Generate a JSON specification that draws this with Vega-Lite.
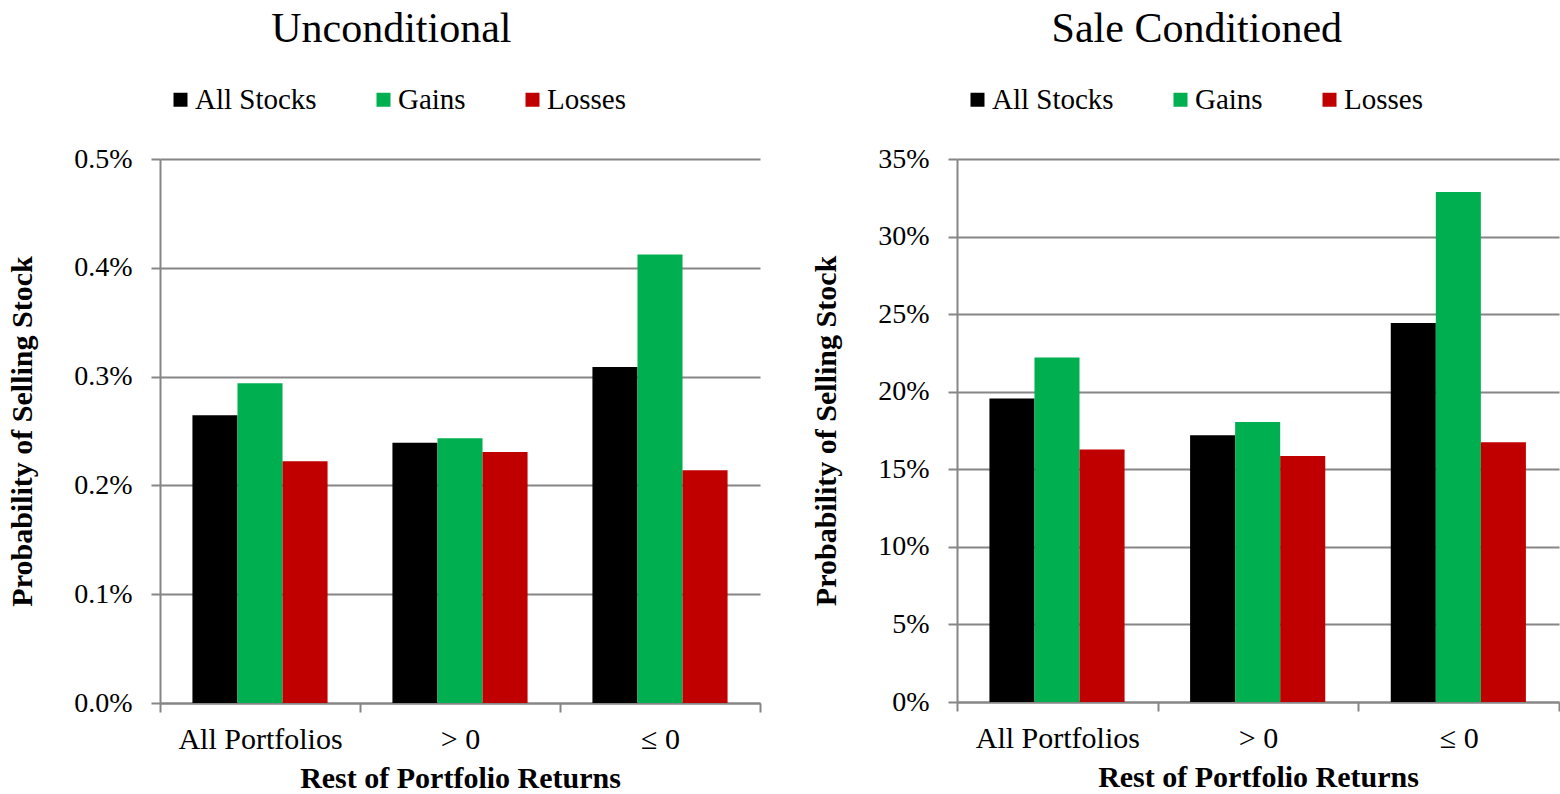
{
  "$schema": "https://vega.github.io/schema/vega-lite/v6.json",
  "padding": {"left": 7, "top": 8, "right": 0, "bottom": 0},
  "config": {
    "font": "Liberation Serif",
    "view": {"stroke": null},
    "axis": {
      "labelFont": "Liberation Serif", "titleFont": "Liberation Serif",
      "labelFontSize": 28, "titleFontSize": 30, "titleFontWeight": "bold",
      "labelColor": "#000000", "titleColor": "#000000",
      "domainColor": "#868686", "domainWidth": 2,
      "tickColor": "#868686", "tickWidth": 2, "tickSize": 9,
      "gridColor": "#868686", "gridWidth": 2
    },
    "legend": {
      "labelFont": "Liberation Serif", "labelFontSize": 29, "labelColor": "#000000",
      "symbolType": "square", "symbolSize": 196, "symbolStrokeWidth": 0,
      "labelOffset": 0, "columnPadding": 52, "padding": 0
    },
    "title": {"font": "Liberation Serif", "fontSize": 42, "fontWeight": "normal", "color": "#000000", "frame": "bounds", "anchor": "middle"}
  },
  "datasets": {
    "uncond": [
      {"group": "All Portfolios", "series": "All Stocks", "value": 0.002645},
      {"group": "All Portfolios", "series": "Gains", "value": 0.002939},
      {"group": "All Portfolios", "series": "Losses", "value": 0.002222},
      {"group": "> 0", "series": "All Stocks", "value": 0.002392},
      {"group": "> 0", "series": "Gains", "value": 0.002433},
      {"group": "> 0", "series": "Losses", "value": 0.002307},
      {"group": "≤ 0", "series": "All Stocks", "value": 0.003089},
      {"group": "≤ 0", "series": "Gains", "value": 0.004123},
      {"group": "≤ 0", "series": "Losses", "value": 0.00214}
    ],
    "sale": [
      {"group": "All Portfolios", "series": "All Stocks", "value": 0.1956},
      {"group": "All Portfolios", "series": "Gains", "value": 0.222},
      {"group": "All Portfolios", "series": "Losses", "value": 0.1628},
      {"group": "> 0", "series": "All Stocks", "value": 0.1719},
      {"group": "> 0", "series": "Gains", "value": 0.1805},
      {"group": "> 0", "series": "Losses", "value": 0.1585},
      {"group": "≤ 0", "series": "All Stocks", "value": 0.2443},
      {"group": "≤ 0", "series": "Gains", "value": 0.3288},
      {"group": "≤ 0", "series": "Losses", "value": 0.1674}
    ]
  },
  "spacing": 50,
  "resolve": {"scale": {"color": "independent", "y": "independent"}, "legend": {"color": "independent"}},
  "hconcat": [
    {
      "title": {"text": "Unconditional", "offset": 34, "dx": 7},
      "width": 600, "height": 544,
      "data": {"name": "uncond"},
      "mark": {"type": "bar"},
      "encoding": {
        "x": {"field": "group", "type": "nominal", "sort": ["All Portfolios", "> 0", "≤ 0"],
          "scale": {"paddingInner": 0, "paddingOuter": 0},
          "axis": {"title": "Rest of Portfolio  Returns", "labelAngle": 0, "labelFontSize": 30, "tickBand": "extent", "grid": false, "labelPadding": 12, "titlePadding": 9}},
        "xOffset": {"field": "series", "type": "nominal", "sort": ["All Stocks", "Gains", "Losses"], "scale": {"paddingOuter": 0.72, "paddingInner": 0}},
        "y": {"field": "value", "type": "quantitative", "scale": {"domain": [0, 0.005]},
          "axis": {"format": ".1%", "values": [0, 0.001, 0.002, 0.003, 0.004, 0.005], "title": "Probability  of Selling Stock", "grid": true, "labelPadding": 19, "titlePadding": 36}},
        "color": {"field": "series", "type": "nominal", "sort": ["All Stocks", "Gains", "Losses"],
          "scale": {"domain": ["All Stocks", "Gains", "Losses"], "range": ["#000000", "#00B050", "#C00000"]},
          "legend": {"orient": "none", "legendX": 6, "legendY": -74, "direction": "horizontal", "title": null}}
      }
    },
    {
      "title": {"text": "Sale Conditioned", "offset": 34, "dx": 11},
      "width": 602, "height": 543,
      "data": {"name": "sale"},
      "mark": {"type": "bar"},
      "encoding": {
        "x": {"field": "group", "type": "nominal", "sort": ["All Portfolios", "> 0", "≤ 0"],
          "scale": {"paddingInner": 0, "paddingOuter": 0},
          "axis": {"title": "Rest of Portfolio  Returns", "labelAngle": 0, "labelFontSize": 30, "tickBand": "extent", "grid": false, "labelPadding": 12, "titlePadding": 9}},
        "xOffset": {"field": "series", "type": "nominal", "sort": ["All Stocks", "Gains", "Losses"], "scale": {"paddingOuter": 0.72, "paddingInner": 0}},
        "y": {"field": "value", "type": "quantitative", "scale": {"domain": [0, 0.35]},
          "axis": {"format": ".0%", "values": [0, 0.05, 0.1, 0.15, 0.2, 0.25, 0.3, 0.35], "title": "Probability  of Selling Stock", "grid": true, "labelPadding": 19, "titlePadding": 36}},
        "color": {"field": "series", "type": "nominal", "sort": ["All Stocks", "Gains", "Losses"],
          "scale": {"domain": ["All Stocks", "Gains", "Losses"], "range": ["#000000", "#00B050", "#C00000"]},
          "legend": {"orient": "none", "legendX": 6, "legendY": -74, "direction": "horizontal", "title": null}}
      }
    }
  ]
}
